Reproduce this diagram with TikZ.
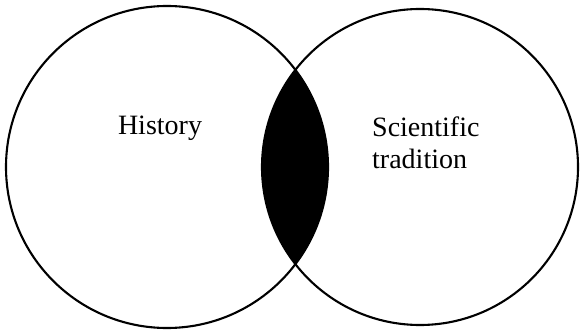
\documentclass[tikz,border=0pt]{standalone}
\usepackage{fontspec}
\setmainfont{Liberation Serif}
\begin{document}
\begin{tikzpicture}[x=1pt,y=1pt,
  ring/.style={draw=black,line width=2.1pt},
  lbl/.style={font=\fontsize{28}{33}\selectfont,inner sep=0pt}]
\useasboundingbox (0,0) rectangle (580,329);
\begin{scope}
  \clip (167,162) circle[radius=161];
  \fill[black] (420,162) circle[radius=158];
\end{scope}
\draw[ring] (167,162) circle[radius=161];
\draw[ring] (420,162) circle[radius=158];
\node[lbl,anchor=base] (hist) at (160,194) {History};
\node[lbl,anchor=base west] (sci) at (372,192) {Scientific};
\node[lbl,anchor=base west] (trad) at (372,160) {tradition};
\end{tikzpicture}
\end{document}
